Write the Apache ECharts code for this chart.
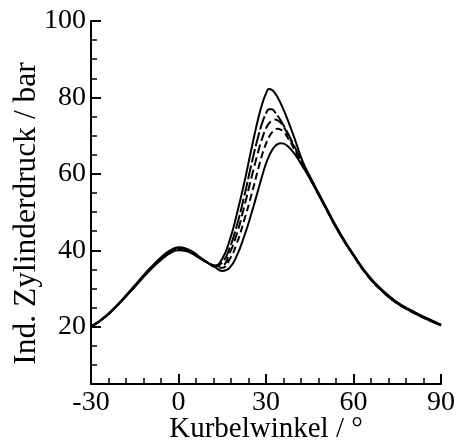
<!DOCTYPE html>
<html>
<head>
<meta charset="utf-8">
<script src="https://cdn.jsdelivr.net/npm/echarts@6/dist/echarts.min.js"></script>
<style>html,body{margin:0;padding:0;background:#fff}#c{width:458px;height:448px}</style>
</head>
<body>
<div id="c"></div>
<script>
var angles = [-30,-25,-20,-15,-10,-5,-2.5,0,2.5,5,7.5,10,12.5,15,17.5,20,22.5,25,27.5,29,30,31,32,33,34,35,36,37.5,40,42.5,45,50,55,60,65,70,75,80,85,90];
var curveA = [20.0,22.6,26.3,30.4,34.6,38.1,39.4,40.0,39.8,39.0,37.8,36.7,36.0,37.8,42.5,49.5,57.5,66.5,75.0,79.0,81.0,82.2,82.0,81.2,80.0,78.5,76.8,74.0,68.8,63.4,59.4,52.1,45.0,38.9,33.5,29.5,26.4,24.2,22.3,20.5];
var curveB = [20.0,22.65,26.35,30.5,34.75,38.3,39.6,40.2,40.0,39.1,37.9,36.8,35.9,36.8,40.5,46.5,54.0,62.5,70.3,74.0,75.8,76.9,76.9,76.2,75.2,74.0,72.7,70.6,66.8,62.8,59.3,52.0,44.9,38.8,33.4,29.4,26.3,24.1,22.2,20.5];
var curveC = [20.0,22.7,26.4,30.6,34.9,38.5,39.8,40.4,40.1,39.2,38.0,36.8,35.8,36.0,39.2,44.3,51.3,59.0,66.3,70.0,71.9,73.2,73.9,74.2,74.0,73.4,72.4,70.3,66.4,62.5,59.1,51.9,44.8,38.7,33.3,29.3,26.2,24.0,22.1,20.4];
var curveD = [20.0,22.7,26.45,30.7,35.0,38.6,39.9,40.6,40.3,39.3,38.0,36.8,35.8,35.4,37.6,41.8,47.8,54.5,61.8,65.8,67.9,69.6,70.8,71.5,71.8,71.6,71.0,69.4,66.0,62.3,59.0,51.8,44.7,38.6,33.2,29.2,26.1,23.9,22.0,20.4];
var curveE = [20.0,22.75,26.5,30.8,35.1,38.8,40.1,40.8,40.5,39.5,38.1,36.7,35.6,34.6,35.4,38.6,43.6,49.6,56.3,60.3,62.7,64.6,66.1,67.2,67.8,68.0,67.9,67.2,65.0,62.0,58.8,51.7,44.6,38.6,33.2,29.2,26.1,23.9,22.0,20.3];
var xTicks = [-30, 0, 30, 60, 90];
var yMajorTicks = [20, 40, 60, 80, 100];
var yMinorTicks = [5,10,15,25,30,35,45,50,55,65,70,75,85,90,95];

function pairs(v){ return angles.map(function(a,i){ return [a, v[i]]; }); }
var FONT = 'Liberation Serif';
var black = '#000';
function line(name, data, dash){
  return {name:name, type:'line', data:pairs(data), smooth:true, symbol:'none',
    lineStyle:{color:black, width:2, type:dash}, z:3};
}
var chart = echarts.init(document.getElementById('c'), null, {renderer:'canvas'});
chart.setOption({
  animation:false,
  backgroundColor:'#fff',
  grid:{left:91, right:17, top:21, bottom:64, containLabel:false, outerBoundsMode:'none'},
  xAxis:{type:'value', min:-30, max:90, interval:30,
    name:'Kurbelwinkel / °', nameLocation:'middle', nameGap:31, nameMoveOverlap:false,
    nameTextStyle:{fontFamily:FONT, fontSize:29, color:black},
    axisLine:{show:true, onZero:false, lineStyle:{color:black, width:2}},
    axisTick:{show:true, inside:true, length:10, lineStyle:{color:black, width:2}},
    minorTick:{show:true, splitNumber:5, length:6, lineStyle:{color:black, width:1.5}},
    axisLabel:{fontFamily:FONT, fontSize:28, color:black, margin:5, customValues:xTicks},
    splitLine:{show:false}, minorSplitLine:{show:false}},
  yAxis:[
    {type:'value', min:5, max:100, position:'left',
      name:'Ind. Zylinderdruck / bar', nameLocation:'middle', nameGap:48, nameRotate:90, nameMoveOverlap:false,
      nameTextStyle:{fontFamily:FONT, fontSize:31.5, color:black, padding:[0,22,0,0]},
      axisLine:{show:true, onZero:false, lineStyle:{color:black, width:2}},
      axisTick:{show:true, inside:true, length:10, customValues:yMajorTicks, lineStyle:{color:black, width:2}},
      axisLabel:{fontFamily:FONT, fontSize:28, color:black, margin:5, customValues:yMajorTicks},
      splitLine:{show:false}},
    {type:'value', min:5, max:100, position:'left', offset:0,
      axisLine:{show:false, onZero:false},
      axisTick:{show:true, inside:true, length:6, customValues:yMinorTicks, lineStyle:{color:black, width:1.5}},
      axisLabel:{show:false},
      splitLine:{show:false}}
  ],
  series:[
    line('A', curveA, 'solid'),
    line('B', curveB, [14,3]),
    line('C', curveC, [9,4]),
    line('D', curveD, [7,4]),
    line('E', curveE, 'solid')
  ]
});
</script>
</body>
</html>
